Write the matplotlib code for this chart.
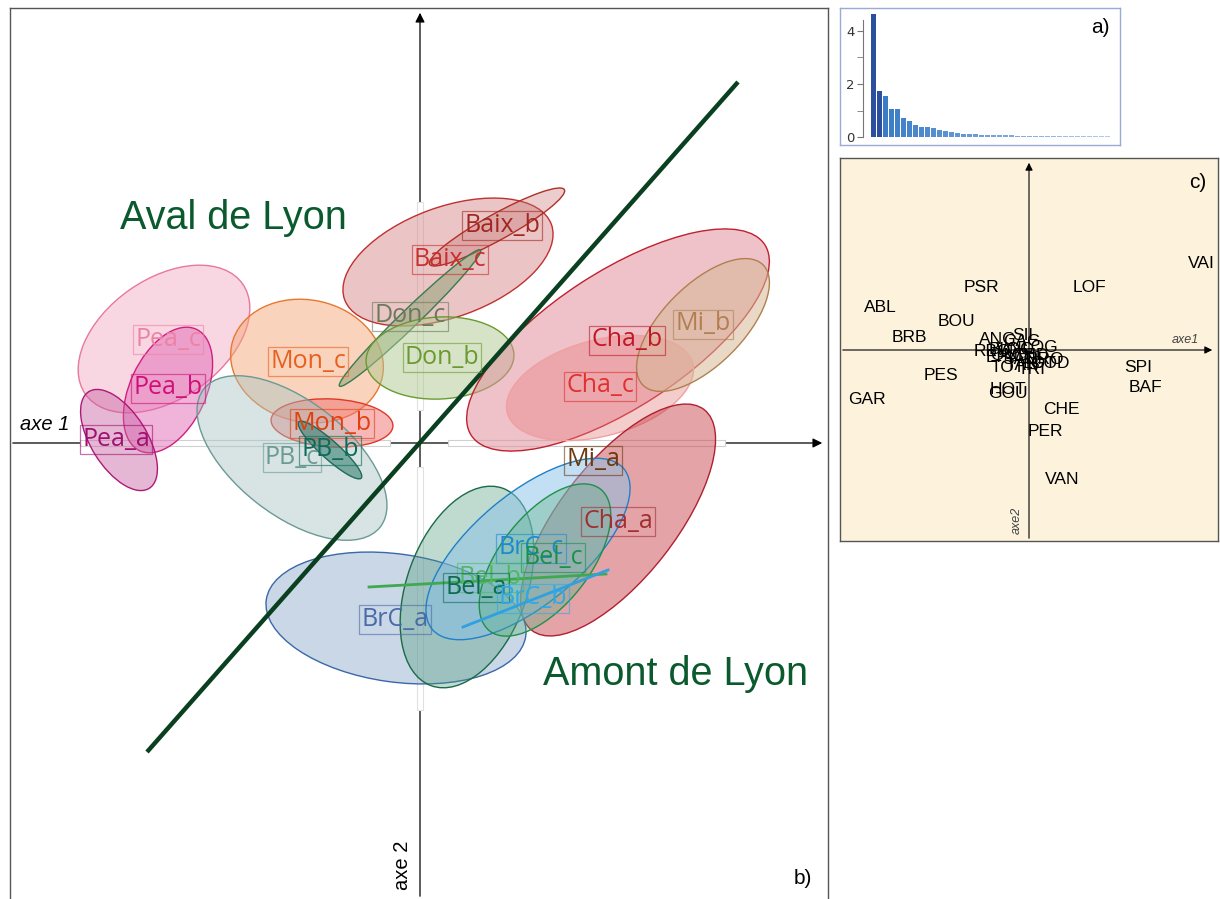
import matplotlib
matplotlib.use("Agg")
import matplotlib.pyplot as plt
from matplotlib.patches import Ellipse, Rectangle
from matplotlib.colors import to_rgba

W, H = 1220, 899

# ---- panel b) : groups (ellipse centre, width, height, angle) in factorial-plane units
groups = ["Pea_c", "Pea_b", "Pea_a", "Mon_c", "Mon_b", "PB_c", "PB_b",
          "Baix_c", "Baix_b", "Don_c", "Don_b", "Cha_b", "Cha_c", "Mi_b",
          "Cha_a", "BrC_a", "Bel_a", "BrC_c", "Bel_c"]
ell_x = [-2.56, -2.52, -3.01, -1.13, -0.88, -1.28, -0.90,
         0.28, 0.77, -0.10, 0.20, 1.98, 1.80, 2.83,
         1.98, -0.24, 0.47, 1.08, 1.25]
ell_y = [1.04, 0.53, 0.03, 0.82, 0.20, -0.15, -0.07,
         1.81, 2.16, 1.25, 0.85, 1.03, 0.55, 1.18,
         -0.77, -1.75, -1.44, -1.06, -1.17]
ell_w = [1.92, 1.34, 1.14, 1.54, 1.22, 2.24, 0.84,
         2.20, 1.54, 1.96, 1.48, 3.50, 1.92, 1.70,
         2.80, 2.62, 2.10, 2.50, 1.80]
ell_h = [1.20, 0.76, 0.56, 1.22, 0.48, 1.14, 0.18,
         1.10, 0.26, 0.18, 0.82, 1.36, 0.96, 0.80,
         1.16, 1.28, 1.20, 1.10, 0.90]
ell_ang = [35, 65, -58, -12, -3, -38, -42,
           20, 29, 44, 3, 33, 15, 45,
           52, -8, 70, 40, 52]
ell_edge = ["#e8789c", "#d0207f", "#b01878", "#e87830", "#e03828", "#6a9a94", "#1f6a5c",
            "#c03030", "#b03028", "#3a7a50", "#6a9a30", "#c02030", "#f0a0a0", "#b08050",
            "#b02030", "#3a68a8", "#1a6a48", "#2080c8", "#20904a"]
ell_face = ["#f0a8bf", "#e268b4", "#c860a0", "#f5a878", "#f07070", "#a8c4c2", "#2a7a6a",
            "#d88c8c", "#c87070", "#8aa070", "#b0c890", "#e0909c", "#e88080", "#d8b898",
            "#c84850", "#8aa8c8", "#4a9a78", "#88c0e8", "#58b080"]
ell_alpha = [0.45, 0.5, 0.45, 0.5, 0.5, 0.45, 0.55,
             0.5, 0.35, 0.5, 0.5, 0.55, 0.4, 0.55,
             0.5, 0.45, 0.35, 0.5, 0.35]

# degenerate groups drawn as segments
seg_names = ["Bel_b", "BrC_b"]
seg_x = [(-0.51, 1.86), (0.43, 1.88)]
seg_y = [(-1.44, -1.31), (-1.84, -1.27)]
seg_col = ["#40a850", "#30a0e0"]

# group labels
lab_names = ["Pea_c", "Pea_b", "Pea_a", "Mon_c", "Mon_b", "PB_c", "PB_b",
             "Baix_b", "Baix_c", "Don_c", "Don_b", "Cha_b", "Cha_c", "Mi_b",
             "Mi_a", "Cha_a", "BrC_c", "Bel_c", "Bel_b", "Bel_a", "BrC_b", "BrC_a"]
lab_x = [-2.52, -2.52, -3.04, -1.12, -0.88, -1.28, -0.90,
         0.82, 0.30, -0.10, 0.22, 2.07, 1.80, 2.83,
         1.73, 1.98, 1.11, 1.33, 0.70, 0.56, 1.13, -0.25]
lab_y = [1.04, 0.55, 0.04, 0.82, 0.20, -0.14, -0.07,
         2.18, 1.84, 1.27, 0.86, 1.03, 0.57, 1.19,
         -0.17, -0.78, -1.05, -1.14, -1.34, -1.44, -1.55, -1.76]
lab_col = ["#ec82a4", "#d0107a", "#a01070", "#e86020", "#e04010", "#6a9a94", "#0e6a5a",
           "#a02820", "#c83030", "#6a7a5a", "#6a9a30", "#c01828", "#e03030", "#b08050",
           "#6a3a10", "#a03030", "#1e88d0", "#1a9048", "#50b860", "#0e6a50", "#30a8e8", "#4a6aa8"]

# separating line and zone names
sep_x = [-2.73, 3.18]
sep_y = [-3.09, 3.61]
zones = ["Aval de Lyon", "Amont de Lyon"]
zone_x = [-1.87, 2.56]
zone_y = [2.14, -2.42]

# ---- panel a) eigenvalues
eigen = [4.61, 1.75, 1.54, 1.05, 1.05, 0.74, 0.63, 0.45, 0.39, 0.39,
         0.36, 0.28, 0.25, 0.19, 0.16, 0.14, 0.12, 0.11, 0.10, 0.09,
         0.08, 0.08, 0.07, 0.07, 0.06, 0.06, 0.06, 0.05, 0.05, 0.05,
         0.05, 0.05, 0.04, 0.04, 0.04, 0.04, 0.04, 0.04, 0.04, 0.04]

# ---- panel c) variables
var_names = ["VAI", "LOF", "PSR", "ABL", "BOU", "BRB", "ANG", "SIL", "PES", "GAR",
             "SPI", "BAF", "CHE", "PER", "VAN", "HOT", "GOU",
             "RBO", "CAG", "LOG", "BLN", "VOG", "OMB", "CHD", "BRO", "SAN",
             "GOD", "TOT", "TRI", "TAN", "LOT", "EPI"]
var_x = [1.72, 0.60, -0.48, -1.49, -0.73, -1.20, -0.31, -0.04, -0.88, -1.62,
         1.09, 1.16, 0.32, 0.16, 0.33, -0.21, -0.21,
         -0.37, -0.07, 0.11, -0.24, -0.14, -0.19, 0.01, 0.16, -0.09,
         0.21, -0.21, 0.03, -0.07, 0.11, -0.29]
var_y = [0.87, 0.63, 0.63, 0.42, 0.29, 0.12, 0.11, 0.15, -0.25, -0.50,
         -0.17, -0.37, -0.59, -0.81, -1.29, -0.39, -0.44,
         -0.01, 0.08, 0.03, 0.00, 0.01, -0.05, -0.06, -0.10, -0.10,
         -0.14, -0.18, -0.20, -0.16, -0.14, -0.08]


def px_box(x0, y0, x1, y1):
    return [x0 / W, 1 - y1 / H, (x1 - x0) / W, (y1 - y0) / H]


fig = plt.figure(figsize=(W / 100, H / 100), dpi=100)

# ================= panel b =================
ax = fig.add_axes(px_box(10, 8, 828, 899))
ax.set_xlim(-4.10, 4.08)
ax.set_ylim(-4.56, 4.35)
ax.set_xticks([])
ax.set_yticks([])
for s in ["top", "left", "right"]:
    ax.spines[s].set_color("#555555")
    ax.spines[s].set_linewidth(1.0)
ax.spines["bottom"].set_visible(False)

# axes through origin
ax.annotate("", xy=(4.05, 0), xytext=(-4.10, 0),
            arrowprops=dict(arrowstyle="-|>", color="black", lw=0.9, mutation_scale=14), zorder=1)
ax.annotate("", xy=(0, 4.33), xytext=(0, -4.56),
            arrowprops=dict(arrowstyle="-|>", color="black", lw=0.9, mutation_scale=14), zorder=1)
# pale strips hiding parts of the axes
for (x0, x1) in [(-3.40, -0.30), (0.28, 3.05)]:
    ax.add_patch(Rectangle((x0, -0.03), x1 - x0, 0.06, fc="white", ec="#d0d0d0", lw=0.8, zorder=1.5))
for (y0, y1) in [(0.33, 2.41), (-2.67, -0.24)]:
    ax.add_patch(Rectangle((-0.03, y0), 0.06, y1 - y0, fc="white", ec="#e0e0e0", lw=0.8, zorder=1.5))

for i, g in enumerate(groups):
    e = Ellipse((ell_x[i], ell_y[i]), ell_w[i], ell_h[i], angle=ell_ang[i],
                fc=to_rgba(ell_face[i], ell_alpha[i]), ec=ell_edge[i], lw=1.0, zorder=2 + i * 0.01)
    ax.add_patch(e)

for i, s in enumerate(seg_names):
    ax.plot(seg_x[i], seg_y[i], color=seg_col[i], lw=2, zorder=3)

ax.plot(sep_x, sep_y, color="#0a4020", lw=3.2, solid_capstyle="butt", zorder=4)

for i, name in enumerate(lab_names):
    ax.text(lab_x[i], lab_y[i], name, ha="center", va="center", fontsize=18,
            family="Open Sans", color=lab_col[i], zorder=5,
            bbox=dict(boxstyle="square,pad=0.08", fc="none", ec=to_rgba(lab_col[i], 0.6), lw=0.9))

for i, z in enumerate(zones):
    ax.text(zone_x[i], zone_y[i], z, ha="center", va="baseline", fontsize=28.5,
            family="Liberation Sans", color="#0b5a2e", zorder=6)

ax.text(-4.00, 0.18, "axe 1", fontsize=14.5, style="italic", family="Liberation Sans",
        ha="left", va="center", zorder=6)
ax.text(-0.17, -4.22, "axe 2", fontsize=14.5, rotation=90, family="Liberation Sans",
        ha="center", va="center", zorder=6)
ax.text(3.83, -4.35, "b)", fontsize=15, family="Liberation Sans", ha="center", va="center")

# ================= panel a =================
fa = fig.add_axes(px_box(840, 8, 1120, 145))
fa.set_xticks([])
fa.set_yticks([])
for s in fa.spines.values():
    s.set_color("#9aaad4")
    s.set_linewidth(1.0)
fa.text(0.93, 0.86, "a)", transform=fa.transAxes, fontsize=15, family="Liberation Sans",
        ha="center", va="center")

ba = fig.add_axes(px_box(863, 12, 1115, 137.3))
ba.patch.set_alpha(0)
idx = list(range(len(eigen)))
cols = []
for i in idx:
    if i < 2:
        cols.append("#2b4f9e")
    else:
        t = (i - 2) / (len(eigen) - 3)
        c0 = to_rgba("#3a7cc6")
        c1 = to_rgba("#b0cdec")
        cols.append(tuple(c0[k] + (c1[k] - c0[k]) * t for k in range(3)))
ba.bar(idx, eigen, width=0.85, color=cols)
ba.set_xlim(-1.75, 40.25)
ba.set_ylim(0, 4.70)
for s in ["top", "right", "bottom"]:
    ba.spines[s].set_visible(False)
ba.spines["left"].set_color("#777777")
ba.spines["left"].set_bounds(0, 4.4)
ba.set_xticks([])
ba.set_yticks([0, 2, 4])
ba.set_yticks([1, 3], minor=True)
ba.tick_params(axis="y", which="both", length=4, color="#777777", labelsize=9.5,
               labelcolor="#333333", pad=2)

# ================= panel c =================
ca = fig.add_axes(px_box(840, 158, 1218, 541))
ca.set_facecolor("#fdf3dc")
ca.set_xlim(-1.89, 1.89)
ca.set_ylim(-1.91, 1.92)
ca.set_xticks([])
ca.set_yticks([])
for s in ca.spines.values():
    s.set_color("#555555")
    s.set_linewidth(1.0)
ca.annotate("", xy=(1.86, 0), xytext=(-1.89, 0),
            arrowprops=dict(arrowstyle="-|>", color="black", lw=0.8, mutation_scale=11))
ca.annotate("", xy=(0, 1.90), xytext=(0, -1.91),
            arrowprops=dict(arrowstyle="-|>", color="black", lw=0.8, mutation_scale=11))
for i, v in enumerate(var_names):
    ca.text(var_x[i], var_y[i], v, ha="center", va="center", fontsize=12.5,
            family="Liberation Sans", color="black")
ca.text(1.56, 0.10, "axe1", fontsize=9, style="italic", color="#444444",
        family="Liberation Sans", ha="center", va="center")
ca.text(-0.12, -1.70, "axe2", fontsize=9, style="italic", color="#444444", rotation=90,
        family="Liberation Sans", ha="center", va="center")
ca.text(1.69, 1.67, "c)", fontsize=15, family="Liberation Sans", ha="center", va="center")

fig.savefig("out.png", dpi=100)
